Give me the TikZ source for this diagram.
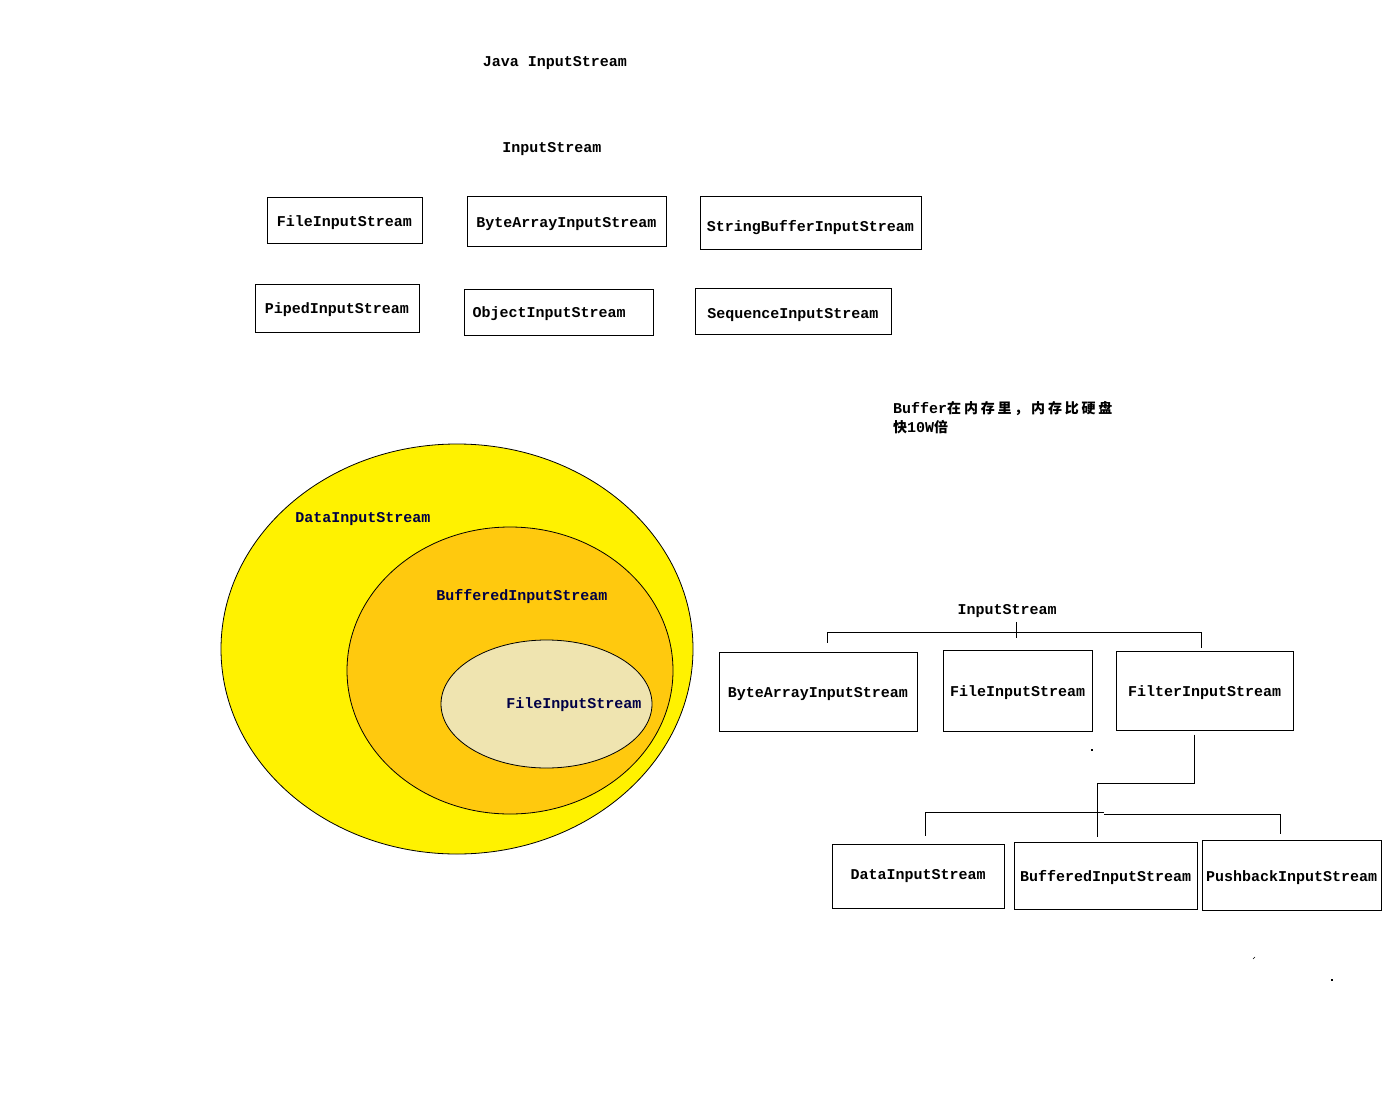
\documentclass[tikz,border=0pt]{standalone}
\usepackage{fontspec}
\setmonofont{Liberation Mono}
\newfontfamily\cjk[LetterSpace=20]{Noto Sans CJK SC}
\usetikzlibrary{positioning}

\definecolor{outeryellow}{RGB}{255,242,0}
\definecolor{midgold}{RGB}{255,201,14}
\definecolor{innercream}{RGB}{239,228,176}
\definecolor{navytext}{RGB}{0,0,70}

\tikzset{
    cls/.style={
           rectangle,
           draw=black, line width=1pt,
           inner sep=2pt,
           text height=14pt, text depth=3pt,
           text centered,
           font=\fontsize{15}{16}\selectfont\ttfamily\bfseries,
           },
    lbl/.style={
           inner sep=0pt, yshift=-2pt,
           font=\fontsize{15}{16}\selectfont\ttfamily\bfseries,
           },
}

\begin{document}
\begin{tikzpicture}[x=1pt,y=-1pt]
       \useasboundingbox (0,0) rectangle (1394,1110);
       \fill[white] (0,0) rectangle (1394,1110);

       % titles
       \node[lbl] (TITLE) at (555,61) {Java InputStream};
       \node[lbl] (IS1) at (552,147) {InputStream};

       % subclasses, first list
       \node[cls, minimum width=155pt, minimum height=45pt] (FIS1) at (344.5,220.5) {FileInputStream};
       \node[cls, minimum width=199pt, minimum height=49pt] (BAIS1) at (566.5,221.5) {ByteArrayInputStream};
       \node[cls, minimum width=221pt, minimum height=52pt, text height=20pt] (SBIS) at (810.5,223) {StringBufferInputStream};
       \node[cls, minimum width=164pt, minimum height=48pt] (PIS) at (337,308) {PipedInputStream};
       \node[cls, minimum width=189pt, minimum height=46pt, align=left, text width=172pt] (OIS) at (558.5,312) {ObjectInputStream};
       \node[cls, minimum width=196pt, minimum height=46pt, text height=17pt] (SIS) at (793,311) {SequenceInputStream};

       % note
       \node[lbl, anchor=north west, align=left,
             font=\fontsize{15}{19}\selectfont\ttfamily\bfseries] (NOTE) at (893,399)
             {Buffer{\cjk\fontsize{14}{19}\selectfont 在内存里，内存比硬盘}\\{\cjk\fontsize{14}{19}\selectfont 快}10W{\cjk\fontsize{14}{19}\selectfont 倍}};

       % decorator ellipses
       \filldraw[fill=outeryellow, draw=black, line width=0.8pt] (457,649) ellipse [x radius=236, y radius=205];
       \filldraw[fill=midgold, draw=black, line width=0.8pt] (510,670.5) ellipse [x radius=163, y radius=143.5];
       \filldraw[fill=innercream, draw=black, line width=0.8pt] (546.5,704) ellipse [x radius=105.5, y radius=64];
       \node[lbl, text=navytext] (DATA) at (363,517) {DataInputStream};
       \node[lbl, text=navytext] (BUFF) at (522,595) {BufferedInputStream};
       \node[lbl, text=navytext] (FILE) at (574,703) {FileInputStream};

       % hierarchy
       \node[lbl] (IS2) at (1007,609) {InputStream};
       \node[cls, minimum width=198pt, minimum height=79pt] (BAIS2) at (818,691.5) {ByteArrayInputStream};
       \node[cls, minimum width=149pt, minimum height=81pt] (FIS2) at (1017.5,690.5) {FileInputStream};
       \node[cls, minimum width=177pt, minimum height=79pt] (FLIS) at (1204.5,690.5) {FilterInputStream};
       \node[cls, minimum width=172pt, minimum height=64pt, text height=10pt] (DIS) at (918,876) {DataInputStream};
       \node[cls, minimum width=183pt, minimum height=67pt] (BIS) at (1105.5,875.5) {BufferedInputStream};
       \node[cls, minimum width=179pt, minimum height=70pt, text height=16pt] (PBIS) at (1291.5,875) {PushbackInputStream};

       \draw[line width=1pt] ([xshift=9pt,yshift=-4pt]IS2.south) -- ++(0,16);
       \draw[line width=1pt] ([xshift=9pt,yshift=9pt]BAIS2.north) |- ([xshift=-3.5pt,yshift=18pt]FLIS.north) -- ([xshift=-3.5pt,yshift=3pt]FLIS.north);
       \draw[line width=1pt] ([xshift=-10.5pt,yshift=-4pt]FLIS.south) |- ([xshift=-8.5pt,yshift=58pt]BIS.north) -- ([xshift=-8.5pt,yshift=5pt]BIS.north);
       \draw[line width=1pt] ([xshift=7pt,yshift=8pt]DIS.north) |- ([xshift=-1.5pt,yshift=29pt]BIS.north);
       \draw[line width=1pt] ([xshift=-1.5pt,yshift=27pt]BIS.north) -| ([xshift=-11.5pt,yshift=6pt]PBIS.north);

       %stray dots
       \fill (1091,749) rectangle (1093,751);
       \fill (1331,979) rectangle (1333,981);
       \draw[line width=0.6pt] (1253,959) -- (1255,957);
\end{tikzpicture}
\end{document}
